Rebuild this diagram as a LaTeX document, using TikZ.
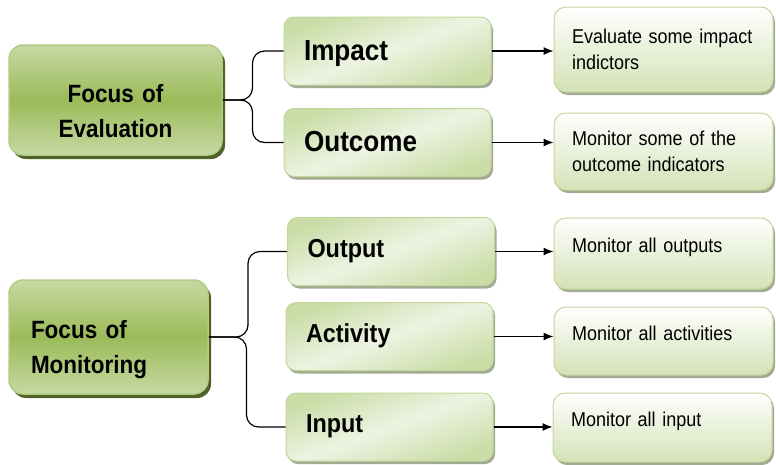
\documentclass[tikz,border=0pt]{standalone}
\usepackage{fontspec}
\setmainfont{Liberation Sans}[FakeStretch=0.9]
\usetikzlibrary{arrows.meta,shadows}

\definecolor{focusdark}{HTML}{9BBB59}
\definecolor{focuslight}{HTML}{C6D9A2}
\definecolor{focusline}{HTML}{B2CB86}
\definecolor{focusshadow}{HTML}{4F6228}
\definecolor{levellight}{HTML}{CADDA7}
\definecolor{levelwhite}{HTML}{EDF3E2}
\definecolor{boxline}{HTML}{C3D69B}
\definecolor{boxshadow}{HTML}{A3AA92}
\definecolor{notegreen}{HTML}{D3E2B6}

\begin{document}
\begin{tikzpicture}[x=1pt, y=-1pt, >={Latex[length=10pt,width=8pt]}, line width=1.2pt,
  focus/.style={rectangle, rounded corners=14pt, draw=focusline, line width=1.5pt,
    top color=focuslight, bottom color=focuslight, middle color=focusdark,
    drop shadow={shadow xshift=3pt, shadow yshift=-4pt, fill=focusshadow, opacity=1},
    inner xsep=20pt, font=\bfseries\fontsize{25}{35}\selectfont},
  level/.style={rectangle, rounded corners=10pt, draw=boxline, line width=1pt,
    top color=levellight, bottom color=levellight, middle color=levelwhite, shading angle=20,
    drop shadow={shadow xshift=2pt, shadow yshift=-3pt, fill=boxshadow, opacity=1},
    minimum height=68pt, text width=167pt, inner xsep=20pt, align=left,
    font=\bfseries\fontsize{29}{33}\selectfont, text height=21pt, text depth=3pt},
  lowlevel/.style={level, font=\bfseries\fontsize{26}{30}\selectfont,
    text height=19pt, text depth=8pt},
  note/.style={rectangle, rounded corners=12pt, draw=boxline, line width=1pt,
    top color=white, bottom color=notegreen,
    drop shadow={shadow xshift=2pt, shadow yshift=-3pt, fill=boxshadow, opacity=1},
    text width=183pt, inner xsep=18pt, align=left, font=\fontsize{20}{26}\selectfont},
  brace/.style={rounded corners=12pt}]
  \useasboundingbox (0,0) rectangle (776,464);

  % evaluation
  \node[focus, minimum height=110pt, text width=173pt, align=center, text depth=13pt]
    (evalfocus) at (115.5,100) {Focus of\\Evaluation};
  \node[level] (impact) at (387.5,51) {Impact};
  \node[level] (outcome) at (387.5,142.5) {Outcome};
  \node[note, minimum height=85pt] (impactnote) at (663.5,49.5)
    {Evaluate some impact\\indictors};
  \node[note, minimum height=77pt] (outcomenote) at (663.5,151.5)
    {Monitor some of the\\outcome indicators};

  \draw[brace] (evalfocus.east) -| ([xshift=-31pt]impact.west) -- (impact.west);
  \draw[brace] (evalfocus.east) -| ([xshift=-31pt]outcome.west) -- (outcome.west);
  \draw[->] (impact.east) -- (impact.east -| impactnote.west);
  \draw[->] (outcome.east) -- (outcome.east -| outcomenote.west);

  % monitoring
  \node[focus, minimum height=114pt, text width=155pt, inner xsep=22pt, align=left,
    text depth=15pt] (monfocus) at (108.5,337) {Focus of\\Monitoring};
  \node[lowlevel] (output) at (391,251.5) {Output};
  \node[lowlevel] (activity) at (389.5,336.5) {Activity};
  \node[lowlevel] (input) at (389.5,427) {Input};
  \node[note, minimum height=71pt, text depth=16pt] (outputnote) at (663.5,253.5)
    {Monitor all outputs};
  \node[note, minimum height=68pt, text depth=16pt] (activitynote) at (663.5,341)
    {Monitor all activities};
  \node[note, minimum height=69pt, text depth=16pt] (inputnote) at (662.5,427.5)
    {Monitor all input};

  \draw[brace] (monfocus.east) -| ([xshift=-39pt]output.west) -- (output.west);
  \draw[brace] (monfocus.east) -| ([xshift=-39pt]input.west) -- (input.west);
  \draw[->] (output.east) -- (output.east -| outputnote.west);
  \draw[->] (activity.east) -- (activity.east -| activitynote.west);
  \draw[->] (input.east) -- (input.east -| inputnote.west);
\end{tikzpicture}
\end{document}
